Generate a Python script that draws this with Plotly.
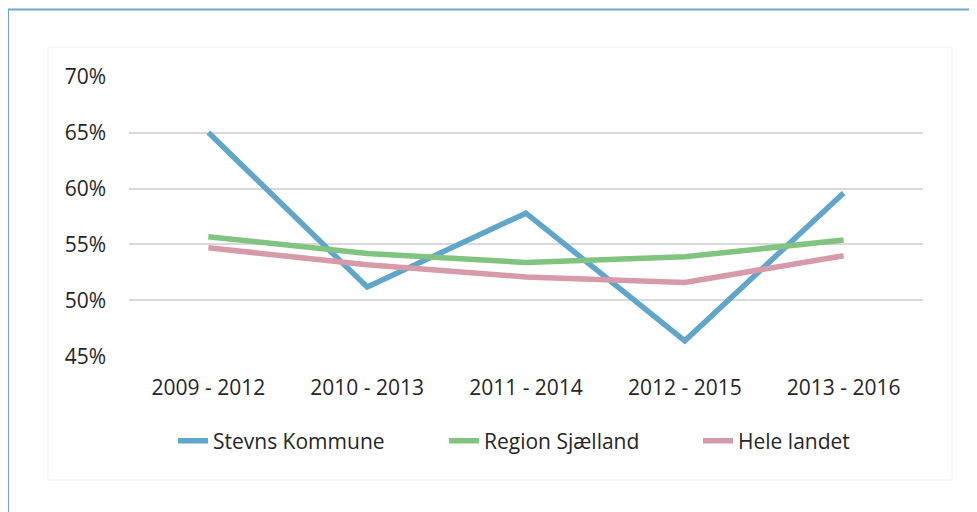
import plotly.graph_objects as go

categories = ["2009 - 2012", "2010 - 2013", "2011 - 2014", "2012 - 2015", "2013 - 2016"]
stevns = [0.650, 0.512, 0.578, 0.464, 0.596]
region = [0.557, 0.542, 0.534, 0.539, 0.554]
landet = [0.547, 0.532, 0.521, 0.516, 0.540]
y_ticks = [0.45, 0.50, 0.55, 0.60, 0.65, 0.70]

series = [
    ("Stevns Kommune", stevns, "#5fa6ca", "legend"),
    ("Region Sjælland", region, "#80c47f", "legend2"),
    ("Hele landet", landet, "#d79aa9", "legend3"),
]

FONT = "Open Sans"
FS = 21
TXT = "#262626"
fig = go.Figure()
for name, vals, color, leg in series:
    fig.add_trace(go.Scatter(
        x=categories, y=vals, name=name, mode="lines",
        line=dict(color=color, width=5.5), legend=leg,
    ))

W, H = 977, 512
OFF = 8  # page body margin
L, R, T, B = 129, 923, 76, 357  # plot area in screen pixels

def px(x):
    return (x - L) / (R - L)

def py(y):
    return (B - y) / (B - T)

shapes = [
    dict(type="rect", xref="paper", yref="paper",
         x0=px(8), x1=px(1010), y0=py(560), y1=py(9.5),
         line=dict(color="#6aa8cc", width=2), fillcolor="rgba(0,0,0,0)", layer="below"),
    dict(type="rect", xref="paper", yref="paper",
         x0=px(48), x1=px(952), y0=py(480), y1=py(47),
         line=dict(color="#f1f1f1", width=1), fillcolor="rgba(0,0,0,0)", layer="below"),
]

def leg(xpix):
    return dict(
        orientation="h", xref="paper", yref="paper",
        x=px(xpix), xanchor="left", y=py(441), yanchor="middle",
        font=dict(family=FONT, size=FS, color=TXT),
        bgcolor="rgba(0,0,0,0)",
    )

fig.update_layout(
    width=W, height=H,
    margin=dict(l=L - OFF, r=W - R + OFF, t=T - OFF, b=H - B + OFF, autoexpand=False),
    paper_bgcolor="white", plot_bgcolor="white",
    font=dict(family=FONT, size=FS, color=TXT),
    shapes=shapes,
    showlegend=True,
    legend=leg(173),
    legend2=leg(444),
    legend3=leg(698),
    xaxis=dict(
        type="category", range=[-0.5, 4.5],
        showgrid=False, zeroline=False, showline=False,
        ticks="", ticklabelstandoff=16,
        tickfont=dict(family=FONT, size=FS, color=TXT),
    ),
    yaxis=dict(
        range=[0.4495, 0.7005], tickvals=y_ticks, tickformat=".0%",
        showgrid=True, gridcolor="#d9d9d9", gridwidth=1.5,
        zeroline=False, showline=False, ticks="", ticklabelstandoff=22,
        tickfont=dict(family=FONT, size=FS, color=TXT),
    ),
)

fig.write_html("out.html")
